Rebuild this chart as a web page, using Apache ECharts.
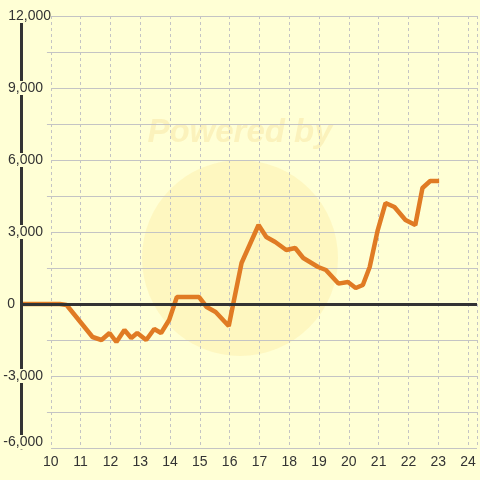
<!DOCTYPE html>
<html>
<head>
<meta charset="utf-8">
<title>chart</title>
<script src="https://cdn.jsdelivr.net/npm/echarts@6/dist/echarts.min.js"></script>
<style>
  html, body { margin: 0; padding: 0; background: #ffffd5; }
  #chart { width: 480px; height: 480px; }
</style>
</head>
<body>
<div id="chart"></div>
<script>
  // x positions and values
  var xs = [9.0, 10.3, 10.53, 11.4, 11.7, 11.97, 12.2, 12.47, 12.7, 12.9, 13.2, 13.47, 13.7, 13.97,
    14.23, 14.97, 15.23, 15.53, 15.97, 16.4, 16.97, 17.23, 17.53, 17.9, 18.2, 18.47, 18.97, 19.23,
    19.65, 19.97, 20.23, 20.47, 20.7, 20.97, 21.23, 21.53, 21.9, 22.23, 22.47, 22.73, 23.03];
  var ys = [0, 0, -40, -1375, -1500, -1208, -1583, -1083, -1417, -1208, -1500, -1042, -1208, -667,
    292, 292, -125, -333, -917, 1708, 3292, 2792, 2583, 2250, 2333, 1917, 1542, 1417,
    850, 917, 667, 792, 1542, 3083, 4208, 4042, 3500, 3292, 4833, 5125, 5125];
  var yTicks = [-6000, -3000, 0, 3000, 6000, 9000, 12000];
  var xTicks = [10, 11, 12, 13, 14, 15, 16, 17, 18, 19, 20, 21, 22, 23, 24];

  var bg = '#ffffd5';
  var font = '"Liberation Sans", sans-serif';
  var points = xs.map(function (x, i) { return [x, ys[i]]; });

  function tok(pad, withBg) {
    var s = { color: '#333', fontSize: 14, fontFamily: font, padding: pad };
    if (withBg) s.backgroundColor = bg;
    return s;
  }

  var chart = echarts.init(document.getElementById('chart'));
  var option = {
    backgroundColor: bg,
    animation: false,
    graphic: [
      {
        type: 'circle',
        shape: { cx: 240, cy: 258, r: 98 },
        style: { fill: 'rgba(250,225,140,0.28)' },
        z: -10
      },
      {
        type: 'text',
        left: 'center',
        top: 116,
        style: {
          text: 'Powered by',
          font: 'italic bold 33px "Liberation Sans", sans-serif',
          fill: 'rgba(245,222,150,0.4)'
        },
        z: -10
      }
    ],
    grid: { left: 21, right: 0, top: 16, bottom: 32 },
    xAxis: {
      type: 'value',
      min: 9,
      max: 24.3,
      interval: 1,
      axisLine: { show: false },
      axisTick: { show: false },
      axisLabel: {
        color: '#333',
        fontSize: 14,
        fontFamily: font,
        margin: 7,
        formatter: function (v) {
          return xTicks.indexOf(v) >= 0 ? String(v) : '';
        }
      },
      splitLine: {
        lineStyle: { color: '#c4c4c4', type: [3, 3], width: 1 }
      }
    },
    yAxis: [
      {
        // grid lines only
        type: 'value',
        min: yTicks[0],
        max: yTicks[yTicks.length - 1],
        interval: 3000,
        axisLine: { show: false },
        axisTick: { show: false },
        axisLabel: { show: false },
        splitLine: { lineStyle: { color: '#c4c4c4', width: 1 } },
        minorTick: { show: false, splitNumber: 2 },
        minorSplitLine: { show: true, lineStyle: { color: '#c4c4c4', width: 1 } }
      },
      {
        // axis line and labels, on top
        type: 'value',
        position: 'left',
        z: 10,
        min: yTicks[0],
        max: yTicks[yTicks.length - 1],
        interval: 3000,
        axisLine: { show: true, lineStyle: { color: '#333', width: 3 } },
        axisTick: { show: false },
        axisLabel: {
          align: 'right',
          margin: -30,
          formatter: function (v) {
            var s = v.toLocaleString('en-US');
            if (v === 0) return '{z|' + s + '}';
            if (v === yTicks[0]) return '{n|' + s + '}\n{sp|}';
            if (v === yTicks[yTicks.length - 1]) return '{t|' + s + '}';
            return '{n|' + s + '}';
          },
          rich: {
            n: tok([0, 8, 0, 0], true),
            t: tok([0, 0, 0, 0], true),
            z: tok([0, 36, 0, 0], false),
            sp: { height: 12, width: 1, fontSize: 1 }
          }
        },
        splitLine: { show: false }
      }
    ],
    series: [
      {
        type: 'line',
        data: [],
        z: 1,
        markArea: {
          silent: true,
          itemStyle: { color: bg },
          data: [[{ xAxis: 9.06 }, { xAxis: 9.87 }]]
        },
        markLine: {
          silent: true,
          symbol: 'none',
          label: { show: false },
          lineStyle: { color: '#333', width: 3, type: 'solid' },
          data: [{ yAxis: 0 }]
        }
      },
      {
        type: 'line',
        data: points,
        z: 3,
        showSymbol: false,
        symbol: 'none',
        lineStyle: { color: '#e07b24', width: 4.5 },
        itemStyle: { color: '#e07b24' }
      }
    ]
  };
  chart.setOption(option);
</script>
</body>
</html>
